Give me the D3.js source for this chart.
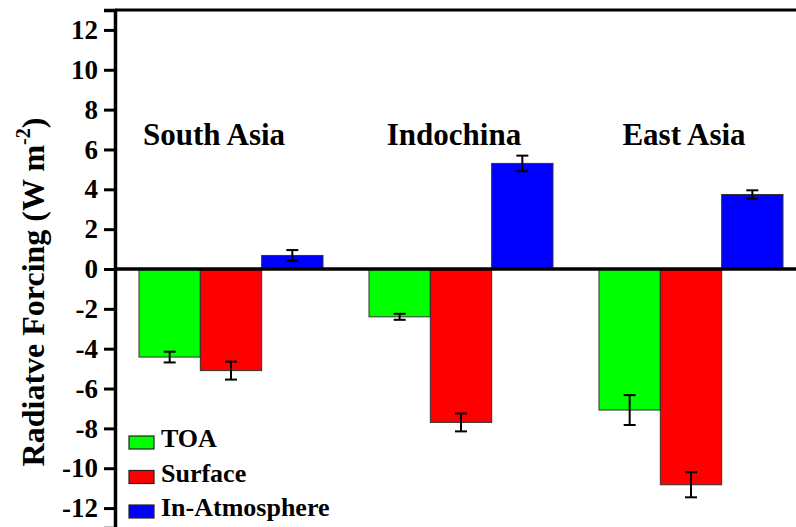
<!DOCTYPE html>
<html>
<head>
<meta charset="utf-8">
<script src="https://cdn.jsdelivr.net/npm/d3@7"></script>
<style>
  body { margin: 0; background: #fff; }
  svg text { font-family: "Liberation Serif", "Times New Roman", Tinos, "DejaVu Serif", serif; font-weight: bold; }
</style>
</head>
<body>
<div id="chart"></div>
<script>
// regions and series
const regions = ['South Asia', 'Indochina', 'East Asia'];
const seriesNames = ['TOA', 'Surface', 'In-Atmosphere'];
const seriesColors = ['#00ff00', '#ff0000', '#0000ff'];

// forcing values (W m-2) per region
const toaValues = [-4.42, -2.40, -7.08];
const surfaceValues = [-5.10, -7.70, -10.83];
const atmosValues = [0.68, 5.30, 3.74];

// error half-widths
const toaErrors = [0.27, 0.15, 0.75];
const surfaceErrors = [0.45, 0.45, 0.63];
const atmosErrors = [0.27, 0.39, 0.21];

const yTicks = [-12, -10, -8, -6, -4, -2, 0, 2, 4, 6, 8, 10, 12];

const width = 796, height = 527;
const axisX = 115;

const svg = d3.select('#chart').append('svg')
    .attr('width', width)
    .attr('height', height);

const y = d3.scaleLinear().domain([-13, 13]).range([528, 10]);

const x = d3.scaleBand()
    .domain(regions)
    .range([116, 806])
    .paddingInner(0.2)
    .paddingOuter(0.1);

const xSeries = d3.scaleBand()
    .domain(seriesNames)
    .range([0, x.bandwidth()])
    .padding(0);

// flatten into one row per bar
const valueSets = [toaValues, surfaceValues, atmosValues];
const errorSets = [toaErrors, surfaceErrors, atmosErrors];
const rows = [];
regions.forEach((r, i) => {
    seriesNames.forEach((s, j) => {
        rows.push({ region: r, series: s, value: valueSets[j][i], err: errorSets[j][i], color: seriesColors[j] });
    });
});

// bars
svg.append('g').selectAll('rect')
    .data(rows)
    .join('rect')
    .attr('x', d => x(d.region) + xSeries(d.series))
    .attr('y', d => y(Math.max(0, d.value)))
    .attr('width', xSeries.bandwidth())
    .attr('height', d => Math.abs(y(d.value) - y(0)))
    .attr('fill', d => d.color)
    .attr('stroke', '#333')
    .attr('stroke-width', 1);

// error bars
const capW = 6;
const eb = svg.append('g').attr('stroke', '#000').attr('stroke-width', 2);
rows.forEach(d => {
    const cx = x(d.region) + xSeries(d.series) + xSeries.bandwidth() / 2;
    const y1 = y(d.value - d.err), y2 = y(d.value + d.err);
    eb.append('line').attr('x1', cx).attr('x2', cx).attr('y1', y1).attr('y2', y2);
    eb.append('line').attr('x1', cx - capW).attr('x2', cx + capW).attr('y1', y1).attr('y2', y1);
    eb.append('line').attr('x1', cx - capW).attr('x2', cx + capW).attr('y1', y2).attr('y2', y2);
});

// zero line and top frame
svg.append('line')
    .attr('x1', axisX).attr('x2', width)
    .attr('y1', y(0)).attr('y2', y(0))
    .attr('stroke', '#000').attr('stroke-width', 3.5);
svg.append('line')
    .attr('x1', axisX).attr('x2', width)
    .attr('y1', y(13)).attr('y2', y(13))
    .attr('stroke', '#000').attr('stroke-width', 3);

// y axis
const yAxis = svg.append('g')
    .attr('transform', `translate(${axisX},0)`)
    .call(d3.axisLeft(y).tickValues(yTicks).tickSize(11).tickPadding(6).tickFormat(d3.format('d')));
yAxis.attr('font-family', null).attr('font-size', null);
yAxis.select('.domain').attr('stroke-width', 3.5);
yAxis.selectAll('.tick line').attr('stroke-width', 3);
yAxis.selectAll('.tick text')
    .attr('font-size', 27)
    .attr('fill', '#000')
    .text(d => d < 0 ? '-' + Math.abs(d) : d);

// y title
const title = svg.append('text')
    .attr('transform', 'translate(44,292) rotate(-90)')
    .attr('text-anchor', 'middle')
    .attr('font-size', 32)
    .attr('fill', '#000');
title.append('tspan').text('Radiatve Forcing (W m');
title.append('tspan').attr('font-size', 20).attr('dy', -14).text('-2');
title.append('tspan').attr('dy', 14).text(')');

// region labels, nudged left of the group centre
svg.append('g').selectAll('text')
    .data(regions)
    .join('text')
    .attr('x', d => x(d) + x.bandwidth() / 2 - (d === 'South Asia' ? 17 : 7))
    .attr('y', 145)
    .attr('text-anchor', 'middle')
    .attr('font-size', 31)
    .attr('fill', '#000')
    .text(d => d);

// legend
const legend = svg.append('g').attr('transform', 'translate(129,436)');
seriesNames.forEach((s, i) => {
    const g = legend.append('g').attr('transform', `translate(0,${i * 34.5})`);
    g.append('rect')
        .attr('width', 25).attr('height', 13)
        .attr('fill', seriesColors[i])
        .attr('stroke', '#222').attr('stroke-width', 1.2);
    g.append('text')
        .attr('x', 32).attr('y', 11)
        .attr('font-size', 26)
        .attr('fill', '#000')
        .text(s);
});
</script>
</body>
</html>
